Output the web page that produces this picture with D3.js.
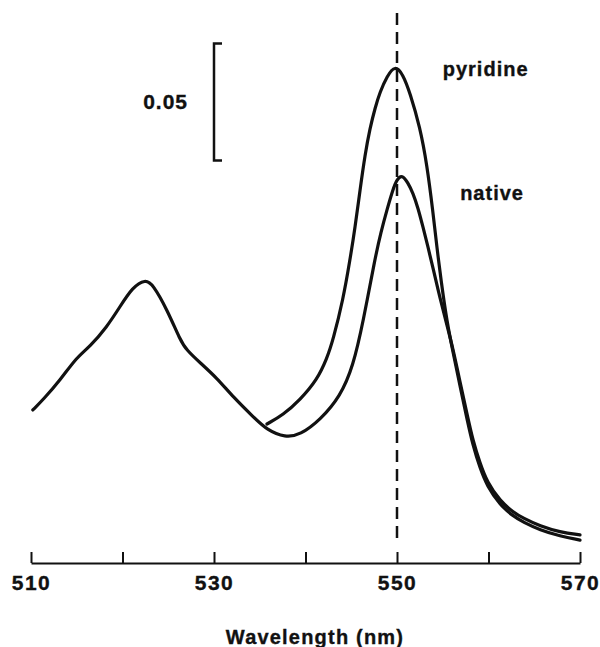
<!DOCTYPE html>
<html>
<head>
<meta charset="utf-8">
<script src="https://cdn.jsdelivr.net/npm/d3@7"></script>
<style>
  body { margin: 0; background: #fff; }
  svg text { font-family: "Liberation Sans", Arial, sans-serif; font-weight: bold; fill: #111; stroke: #111; stroke-width: 0.35px; }
</style>
</head>
<body>
<div id="chart"></div>
<script>
// absorbance spectra, [wavelength nm, absorbance above baseline]
const nativeSpectrum = [
  [510.2, .0654], [511.3, .0697], [513.2, .0782], [515.0, .0880], [516.4, .0923],
  [518.3, .1009], [519.7, .1094], [521.1, .1179], [522.5, .1212], [523.3, .1192],
  [524.9, .1081], [526.3, .0953], [527.0, .0910], [528.5, .0855], [530.3, .0791],
  [532.1, .0709], [534.3, .0624], [535.8, .0568], [537.8, .0536], [539.4, .0547],
  [541.6, .0611], [543.8, .0712], [545.2, .0840], [546.3, .1030], [547.6, .1303],
  [548.25, .1415], [548.9, .1509], [549.56, .1598], [550.0, .1640], [550.55, .1660],
  [551.2, .1625], [551.75, .1581], [552.3, .1517], [552.84, .1436], [553.39, .1350],
  [553.93, .1261], [554.7, .1132], [555.46, .1017], [556.12, .0915], [556.89, .0774],
  [557.65, .0637], [558.31, .0521], [559.07, .0427], [559.84, .0346], [561.26, .0265],
  [562.68, .0218], [563.77, .0192], [565.63, .0158], [567.81, .0132], [570.0, .0120]
];
const pyridineSpectrum = [
  [535.79, .0594], [537.54, .0632], [539.4, .0697], [541.26, .0782], [542.35, .0875],
  [543.01, .0953], [544.1, .1124], [544.86, .1295], [545.41, .1432], [545.96, .1594],
  [546.5, .1744], [547.05, .1859], [547.6, .1944], [548.14, .2013], [548.91, .2080],
  [549.78, .2128], [550.66, .2088], [551.42, .2009], [552.51, .1863], [553.28, .1701],
  [553.93, .1500], [554.37, .1346], [554.81, .1209], [555.46, .1030], [556.12, .0902],
  [556.89, .0756], [557.65, .0615], [558.31, .0500], [559.07, .0406], [559.84, .0329],
  [561.26, .0248], [562.68, .0201], [563.77, .0175], [565.63, .0141], [567.81, .0115],
  [570.0, .0098]
];
const tickValues = [510, 520, 530, 540, 550, 560, 570];
const tickLabels = [510, 530, 550, 570];
const markerWavelength = 550;
const scaleBar = { at: 530, from: 0.172, to: 0.222, label: "0.05" };
const curveLabels = [
  { text: "pyridine", wl: 555.0, abs: 0.208 },
  { text: "native", wl: 556.9, abs: 0.155 }
];

const W = 600, H = 647;
const svg = d3.select("#chart").append("svg")
    .attr("width", W)
    .attr("height", H);

const x = d3.scaleLinear().domain([510, 570]).range([31, 580]);
const y = d3.scaleLinear().domain([0, 0.24]).range([563, 1.4]);

// x axis with inward ticks
const axis = svg.append("g")
    .attr("transform", `translate(0,${y(0)})`)
    .call(d3.axisBottom(x)
      .tickValues(tickValues)
      .tickSize(-11)
      .tickSizeOuter(0)
      .tickPadding(12)
      .tickFormat(d => tickLabels.includes(d) ? d : ""));
axis.select(".domain").attr("stroke", "#111").attr("stroke-width", 2);
axis.selectAll(".tick line").attr("stroke", "#111").attr("stroke-width", 2);
axis.selectAll(".tick text")
    .attr("font-size", 21)
    .style("letter-spacing", "1.5px")
    .attr("fill", "#111");

svg.append("text")
    .attr("x", 315)
    .attr("y", 644)
    .attr("text-anchor", "middle")
    .attr("font-size", 20)
    .style("letter-spacing", "1.2px")
    .text("Wavelength (nm)");

// dashed marker at 550 nm
svg.append("line")
    .attr("x1", x(markerWavelength)).attr("x2", x(markerWavelength))
    .attr("y1", y(0.235)).attr("y2", y(0.0085))
    .attr("stroke", "#111")
    .attr("stroke-width", 2.5)
    .attr("stroke-dasharray", "12,7");

// scale bar
const sb = svg.append("g");
sb.append("path")
    .attr("d", `M${x(scaleBar.at) + 8},${y(scaleBar.to)}H${x(scaleBar.at)}V${y(scaleBar.from)}H${x(scaleBar.at) + 8}`)
    .attr("fill", "none")
    .attr("stroke", "#111")
    .attr("stroke-width", 2.5);
sb.append("text")
    .attr("x", x(scaleBar.at) - 26)
    .attr("y", (y(scaleBar.to) + y(scaleBar.from)) / 2 + 7)
    .attr("text-anchor", "end")
    .attr("font-size", 21)
    .style("letter-spacing", "1px")
    .text(scaleBar.label);

// spectra
const line = d3.line()
    .x(d => x(d[0]))
    .y(d => y(d[1]))
    .curve(d3.curveBasis);

[nativeSpectrum, pyridineSpectrum].forEach(s => {
  svg.append("path")
      .datum(s)
      .attr("d", line)
      .attr("fill", "none")
      .attr("stroke", "#111")
      .attr("stroke-width", 3.2)
      .attr("stroke-linecap", "round")
      .attr("stroke-linejoin", "round");
});

svg.selectAll(".curve-label")
  .data(curveLabels)
  .join("text")
    .attr("class", "curve-label")
    .attr("x", d => x(d.wl))
    .attr("y", d => y(d.abs))
    .attr("font-size", 20)
    .style("letter-spacing", "1px")
    .text(d => d.text);
</script>
</body>
</html>
